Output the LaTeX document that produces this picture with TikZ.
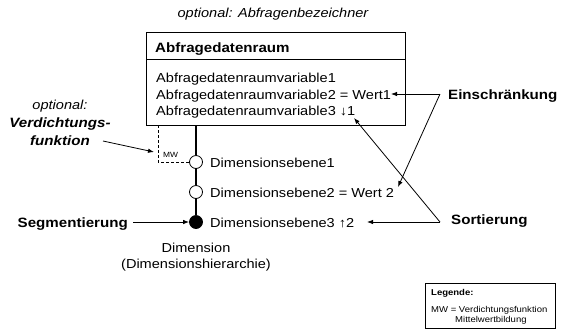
\documentclass[tikz,border=0pt]{standalone}
\usepackage{fontspec}
\setmainfont{Liberation Sans}[FakeStretch=1.12]
\usetikzlibrary{arrows.meta}
\newcommand\regsize{\fontsize{13}{15}\selectfont}
\newcommand\boldsize{\fontsize{13.5}{15}\selectfont\bfseries}
\begin{document}
\begin{tikzpicture}[x=1pt,y=-1pt,
  txt/.style={inner sep=0pt,anchor=base west,font=\regsize},
  btxt/.style={txt,font=\boldsize},
  ctxt/.style={txt,anchor=base},
  small/.style={inner sep=0pt,anchor=base west,font=\fontsize{8.5}{10}\selectfont},
  arr/.style={-{Latex[length=6pt,width=4.5pt]},line width=0.8pt},
  lvl/.style={circle,draw,line width=0.8pt,fill=white,minimum size=13pt,inner sep=0pt},
  axis/.style={line width=2pt},
  frame/.style={draw,line width=1pt,inner sep=0pt,anchor=north west}]
\path[use as bounding box] (0,0) rectangle (564,333);

% query data space box
\node[ctxt,font=\fontsize{13}{15}\selectfont\itshape] (qname) at (273,17) {optional: Abfragenbezeichner};
\node[frame,minimum width=259pt,minimum height=93pt] (adr) at (146,32) {};
\draw[line width=0.8pt] (adr.west |- 0,59) -- (adr.east |- 0,59);
\node[btxt] (adrtitle) at (155,52) {Abfragedatenraum};
\node[txt] (var1) at (156,82) {Abfragedatenraumvariable1};
\node[txt] (var2) at (156,99) {Abfragedatenraumvariable2 = Wert1};
\node[txt] (var3) at (156,115) {Abfragedatenraumvariable3 ↓1};

% dimension hierarchy
\node[lvl] (l1) at (196,162) {};
\node[lvl] (l2) at (196,192) {};
\node[lvl,fill=black] (l3) at (196,222) {};
\draw[axis] (adr.south -| l1) -- (l1.north);
\draw[axis] (l1.south) -- (l2.north);
\draw[axis] (l2.south) -- (l3.north);
\node[txt] (d1) at (210,167) {Dimensionsebene1};
\node[txt] (d2) at (210,197) {Dimensionsebene2 = Wert 2};
\node[txt] (d3) at (210,227) {Dimensionsebene3 ↑2};
\node[ctxt] (dim) at (196,252) {Dimension};
\node[ctxt] (dimh) at (196,268) {(Dimensionshierarchie)};

% optional aggregation function
\coordinate (mwtop) at (158,125);
\coordinate (mwcorner) at (158,162);
\draw[dashed,dash pattern=on 3pt off 2pt,line width=0.9pt] (mwtop) -- (mwcorner) -- (l1.west);
\node[small,font=\fontsize{7.5}{9}\selectfont] (mw) at (163,157) {MW};
\node[ctxt,font=\fontsize{13}{15}\selectfont\itshape] (opt) at (60,109) {optional:};
\node[ctxt,font=\fontsize{13.5}{15}\selectfont\bfseries\itshape] (verd1) at (60,127) {Verdichtungs-};
\node[ctxt,font=\fontsize{13.5}{15}\selectfont\bfseries\itshape] (verd2) at (60,145) {funktion};
\coordinate (verdfrom) at (103,141);
\coordinate (verdto) at (154,152);
\draw[arr] (verdfrom) -- (verdto);

% segmentation
\node[btxt,anchor=base east] (seg) at (128,227) {Segmentierung};
\draw[arr] (seg.east |- l3) ++(5,0) coordinate (segfrom) -- (l3.west);

% restriction
\node[btxt] (ein) at (448,99) {Einschränkung};
\coordinate (einv) at (440,94);
\coordinate (einto1) at (391,94);
\coordinate (einto2) at (398,187);
\draw[arr] (einv) -- (einto1);
\draw[arr] (einv) -- (einto2);

% sorting
\node[btxt] (sort) at (451,224) {Sortierung};
\coordinate (sortv) at (440,222);
\coordinate (sortto1) at (367,222);
\coordinate (sortto2) at (354,118);
\draw[arr] (sortv) -- (sortto1);
\draw[arr] (sortv) -- (sortto2);

% legend
\node[frame,minimum width=130pt,minimum height=45pt] (leg) at (425,283) {};
\node[small,font=\fontsize{8.5}{10}\selectfont\bfseries] (legt) at (431,295) {Legende:};
\node[small] (lege1) at (431,312) {MW = Verdichtungsfunktion};
\node[small] (lege2) at (455,322) {Mittelwertbildung};
\end{tikzpicture}
\end{document}
